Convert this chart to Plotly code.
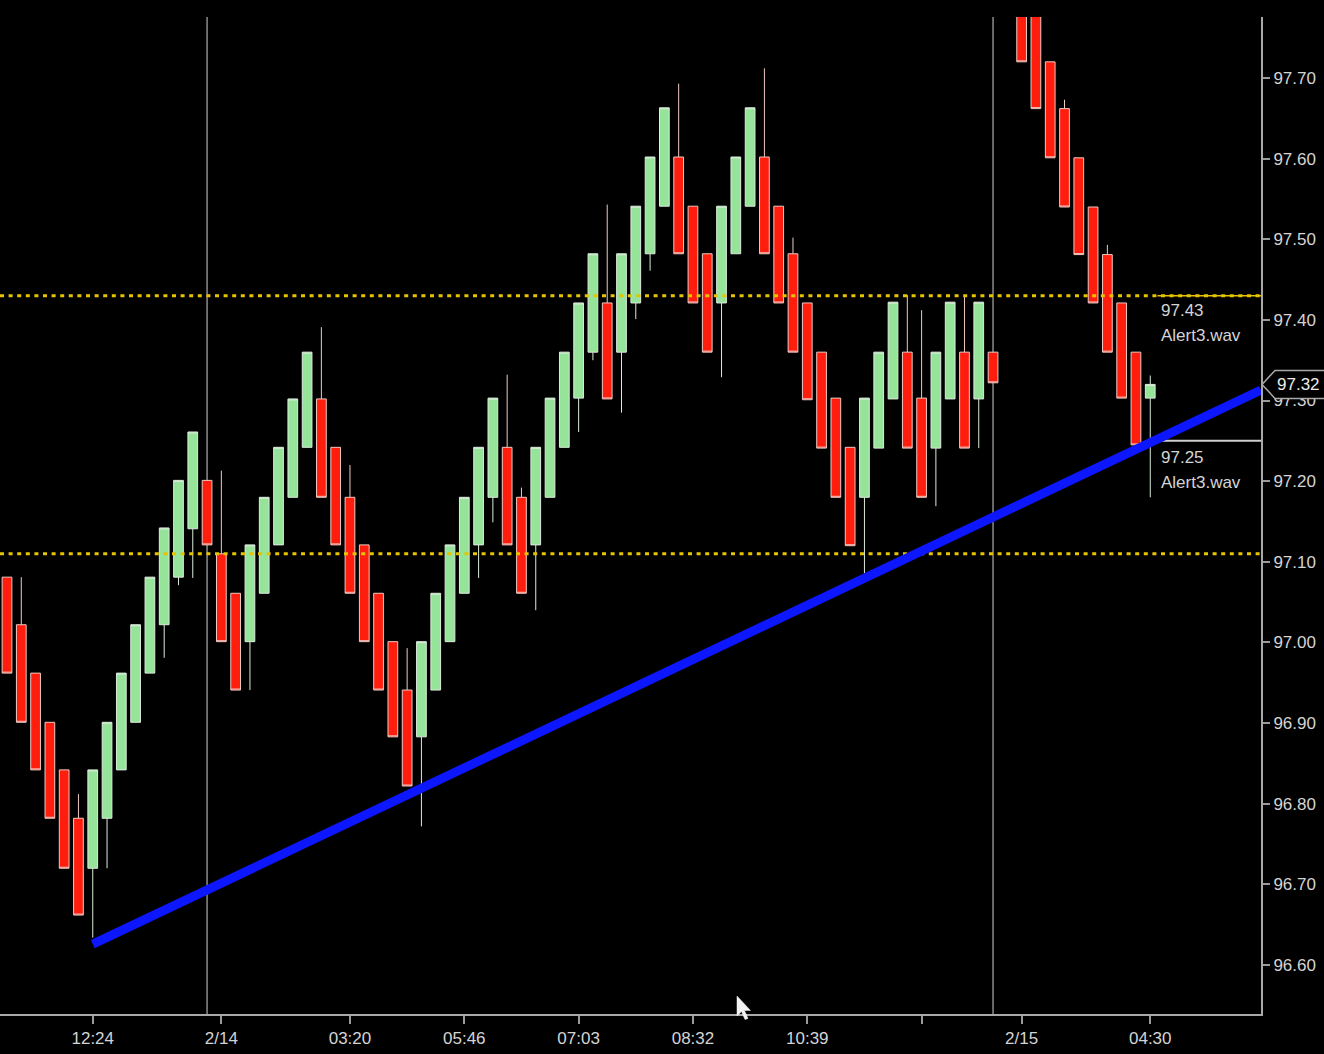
import plotly.graph_objects as go

# ---------------- data ----------------
bars = list(range(1, 82))

open_ = [97.081, 97.022, 96.962, 96.901, 96.842, 96.782, 96.720, 96.782, 96.842, 96.901,
         96.962, 97.022, 97.081, 97.141, 97.201, 97.110, 97.061, 97.001, 97.061, 97.121,
         97.180, 97.242, 97.302, 97.242, 97.180, 97.121, 97.061, 97.001, 96.941, 96.883,
         96.941, 97.001, 97.061, 97.121, 97.180, 97.242, 97.180, 97.121, 97.180, 97.242,
         97.303, 97.360, 97.421, 97.360, 97.421, 97.482, 97.541, 97.602, 97.541, 97.482,
         97.421, 97.482, 97.541, 97.602, 97.541, 97.482, 97.421, 97.360, 97.303, 97.242,
         97.180, 97.241, 97.302, 97.360, 97.303, 97.241, 97.302, 97.360, 97.302, 97.360,
         97.900, 97.840, 97.780, 97.720, 97.662, 97.601, 97.540, 97.481, 97.421, 97.360, 97.303]

close = [96.962, 96.901, 96.842, 96.782, 96.720, 96.662, 96.842, 96.901, 96.962, 97.022,
         97.081, 97.142, 97.201, 97.261, 97.121, 97.001, 96.941, 97.121, 97.180, 97.242,
         97.302, 97.360, 97.180, 97.121, 97.061, 97.001, 96.941, 96.883, 96.822, 97.001,
         97.061, 97.121, 97.180, 97.242, 97.303, 97.121, 97.061, 97.242, 97.303, 97.360,
         97.421, 97.482, 97.302, 97.482, 97.541, 97.602, 97.663, 97.482, 97.421, 97.360,
         97.541, 97.602, 97.663, 97.482, 97.421, 97.360, 97.301, 97.241, 97.180, 97.120,
         97.303, 97.360, 97.422, 97.241, 97.180, 97.360, 97.422, 97.241, 97.422, 97.322,
         97.780, 97.720, 97.662, 97.601, 97.540, 97.481, 97.421, 97.360, 97.303, 97.245, 97.320]

high = [97.081, 97.081, 96.962, 96.901, 96.842, 96.812, 96.842, 96.901, 96.962, 97.022,
        97.081, 97.142, 97.201, 97.261, 97.201, 97.213, 97.061, 97.121, 97.180, 97.242,
        97.302, 97.360, 97.391, 97.242, 97.220, 97.121, 97.061, 97.001, 96.993, 97.001,
        97.061, 97.121, 97.180, 97.242, 97.303, 97.332, 97.192, 97.242, 97.303, 97.360,
        97.421, 97.482, 97.543, 97.482, 97.541, 97.602, 97.663, 97.693, 97.541, 97.482,
        97.541, 97.602, 97.663, 97.712, 97.541, 97.502, 97.421, 97.360, 97.303, 97.242,
        97.303, 97.360, 97.422, 97.431, 97.412, 97.360, 97.422, 97.431, 97.422, 97.360,
        97.900, 97.840, 97.780, 97.720, 97.673, 97.601, 97.540, 97.493, 97.421, 97.360, 97.331]

low = [96.962, 96.901, 96.842, 96.782, 96.720, 96.662, 96.634, 96.720, 96.842, 96.901,
       96.962, 96.981, 97.071, 97.080, 97.121, 97.001, 96.941, 96.941, 97.061, 97.121,
       97.180, 97.242, 97.180, 97.121, 97.061, 97.001, 96.941, 96.883, 96.822, 96.772,
       96.941, 97.001, 97.061, 97.080, 97.149, 97.121, 97.061, 97.040, 97.180, 97.242,
       97.261, 97.350, 97.302, 97.285, 97.401, 97.461, 97.541, 97.482, 97.421, 97.360,
       97.329, 97.482, 97.541, 97.482, 97.421, 97.360, 97.301, 97.241, 97.180, 97.120,
       97.086, 97.241, 97.302, 97.241, 97.180, 97.169, 97.302, 97.241, 97.241, 97.322,
       97.780, 97.720, 97.662, 97.601, 97.540, 97.481, 97.421, 97.360, 97.303, 97.245, 97.180]

tick_bars = [7, 16, 25, 33, 41, 49, 57, 65, 72, 81]
tick_labels = ["12:24", "2/14", "03:20", "05:46", "07:03", "08:32", "10:39", "", "2/15", "04:30"]
price_ticks = [96.60, 96.70, 96.80, 96.90, 97.00, 97.10, 97.20, 97.30, 97.40, 97.50, 97.60, 97.70]

day_breaks = [15, 70]
trend_x = [7, 88.75]
trend_y = [96.626, 97.313]
level_lines = [97.43, 97.11]
alert_levels = [97.43, 97.25]
alert_text = ["97.43", "97.25"]
last_price = 97.32
alert_start_bar = 81

X_RANGE = [0.51, 88.75]
Y_RANGE = [96.5393, 97.7756]

FONT = "Liberation Sans, Arial, sans-serif"
TXT = "#d4d4d4"
GREY = "#9a9a9a"

fig = go.Figure()

fig.add_trace(go.Candlestick(
    x=bars, open=open_, high=high, low=low, close=close,
    increasing=dict(fillcolor="#96e39a", line=dict(color="#dcebdc", width=1)),
    decreasing=dict(fillcolor="#ff1e0e", line=dict(color="#efc9c2", width=1)),
    whiskerwidth=0, showlegend=False, hoverinfo="skip",
))

# dotted yellow levels
for lv in level_lines:
    fig.add_trace(go.Scatter(
        x=X_RANGE, y=[lv, lv], mode="lines",
        line=dict(color="#e6c400", width=3, dash="4px,4.6px"),
        showlegend=False, hoverinfo="skip"))

# solid part of the upper alert line and the lower alert line
fig.add_trace(go.Scatter(
    x=[alert_start_bar + 0.5, X_RANGE[1]], y=[alert_levels[0]] * 2, mode="lines",
    line=dict(color="#e6c400", width=1.5), showlegend=False, hoverinfo="skip"))
fig.add_trace(go.Scatter(
    x=[alert_start_bar, X_RANGE[1]], y=[alert_levels[1]] * 2, mode="lines",
    line=dict(color="#cfcfcf", width=2), showlegend=False, hoverinfo="skip"))

# blue trend line
fig.add_trace(go.Scatter(
    x=trend_x, y=trend_y, mode="lines",
    line=dict(color="#0c16ff", width=9), showlegend=False, hoverinfo="skip"))

shapes = []
for b in day_breaks:
    shapes.append(dict(type="line", xref="x", yref="paper", x0=b, x1=b, y0=0, y1=1,
                       line=dict(color="#8c8c8c", width=1.5), layer="below"))

# price tag on the right axis
PW = 1261.0
tip = 1262 / PW
corner = 1275 / PW
right = 1330 / PW
half = 0.0174
path = (f"M {tip} {last_price} L {corner} {last_price + half} L {right} {last_price + half} "
        f"L {right} {last_price - half} L {corner} {last_price - half} Z")
shapes.append(dict(type="path", xref="paper", yref="y", path=path,
                   fillcolor="#000000", line=dict(color="#a8a8a8", width=1.5), layer="above"))

# mouse cursor
PH = 997.0
def px(x):
    return x / PW
def py(y):
    return (1014 - y) / PH
cur = [(737, 996), (737, 1016), (741.5, 1011.5), (745, 1019.5), (748, 1018.5), (744.5, 1010.5), (750.5, 1010.5)]
cpath = "M " + " L ".join(f"{px(a):.5f} {py(b):.5f}" for a, b in cur) + " Z"
shapes.append(dict(type="path", xref="paper", yref="paper", path=cpath,
                   fillcolor="#f2f2f2", line=dict(color="#f2f2f2", width=0.5), layer="above"))

annotations = []
for lv, t in zip(alert_levels, alert_text):
    off = -15 if lv == alert_levels[0] else -17
    annotations.append(dict(x=alert_start_bar + 0.6, y=lv, xref="x", yref="y", text=t,
                            showarrow=False, xanchor="left", yanchor="middle", yshift=off,
                            font=dict(family=FONT, size=17, color=TXT)))
    annotations.append(dict(x=alert_start_bar + 0.6, y=lv, xref="x", yref="y", text="Alert3.wav",
                            showarrow=False, xanchor="left", yanchor="middle", yshift=off - 24.5,
                            font=dict(family=FONT, size=17, color=TXT)))

annotations.append(dict(x=1299 / PW, y=last_price, xref="paper", yref="y",
                        text=f"{last_price:.2f}", showarrow=False,
                        xanchor="center", yanchor="middle",
                        font=dict(family=FONT, size=17, color="#ececec")))

fig.update_layout(
    width=1324, height=1054,
    paper_bgcolor="#000000", plot_bgcolor="#000000",
    margin=dict(l=0, r=63, t=17, b=40),
    boxgap=0.32, boxgroupgap=0,
    showlegend=False,
    shapes=shapes, annotations=annotations,
    xaxis=dict(range=X_RANGE, tickmode="array", tickvals=tick_bars, ticktext=tick_labels,
               ticks="outside", ticklen=8, tickcolor=GREY, tickwidth=1.5,
               showline=True, linecolor="#a8a8a8", linewidth=2,
               showgrid=False, zeroline=False,
               rangeslider=dict(visible=False),
               tickfont=dict(family=FONT, size=17, color=TXT)),
    yaxis=dict(range=Y_RANGE, side="right", tickmode="array", tickvals=price_ticks,
               tickformat=".2f", ticks="outside", ticklen=7, tickcolor=GREY, tickwidth=1.5,
               showline=True, linecolor="#a8a8a8", linewidth=2,
               showgrid=False, zeroline=False,
               tickfont=dict(family=FONT, size=17, color=TXT)),
)

fig.write_html("out.html", config={"displayModeBar": False},
               post_script="document.body.style.margin='0';")
